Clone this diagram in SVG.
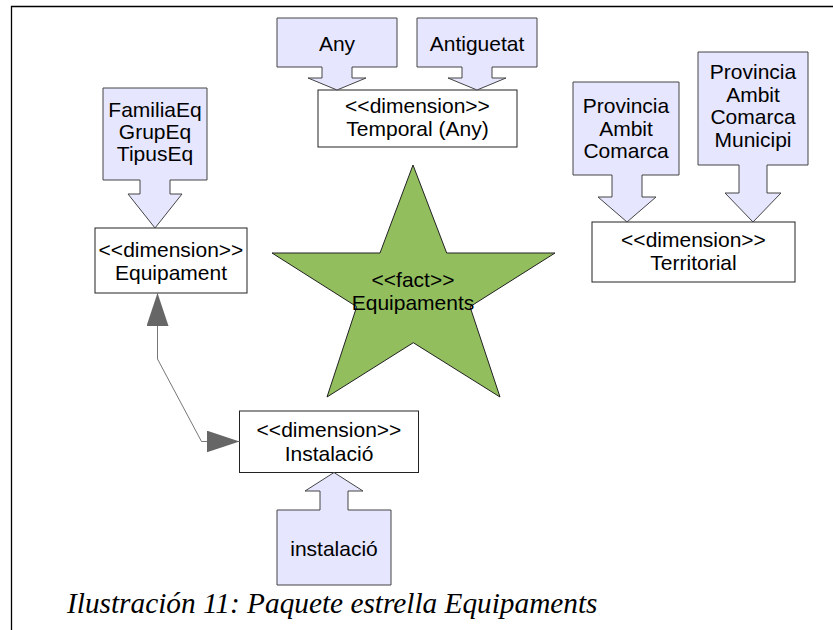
<svg xmlns="http://www.w3.org/2000/svg" width="833" height="630" viewBox="0 0 833 630">
  <style>
    .frame { fill: none; stroke: #000; stroke-width: 1.3; }
    .dim { fill: #fff; stroke: #222; stroke-width: 1; }
    .attr { fill: #e6e6ff; stroke: #444; stroke-width: 1; }
    .fact { fill: #92be5e; stroke: #222; stroke-width: 1; }
    .lbl { font-family: "Liberation Sans", Arial, sans-serif; font-size: 21px; fill: #000; text-anchor: middle; }
    .caption { font-family: "Liberation Serif", "Times New Roman", serif; font-style: italic; font-size: 29.3px; fill: #000; }
    .link { fill: none; stroke: #777; stroke-width: 1; }
  </style>
  <defs>
    <marker id="head" viewBox="0 0 33 22" refX="33" refY="11" markerWidth="33" markerHeight="22" markerUnits="userSpaceOnUse" orient="auto-start-reverse">
      <path d="M0,0 L33,11 L0,22 z" fill="#666"/>
    </marker>
  </defs>

  <rect width="833" height="630" fill="#fff"/>
  <path class="frame" d="M11.5,630 V6.5 H833"/>

  <!-- fact: star -->
  <g id="fact-equipaments">
    <polygon class="fact" points="413,165 446.7,253 555,253 470,306.7 500,397 413.3,342.7 327,397 356.7,306.7 272,253 380,253"/>
    <text class="lbl" x="413" y="287">&lt;&lt;fact&gt;&gt;</text>
    <text class="lbl" x="413" y="310">Equipaments</text>
  </g>

  <!-- dimension: Temporal -->
  <g id="dim-temporal">
    <rect class="dim" x="318" y="90" width="199" height="57"/>
    <text class="lbl" x="417.5" y="113">&lt;&lt;dimension&gt;&gt;</text>
    <text class="lbl" x="417.5" y="136">Temporal (Any)</text>
  </g>
  <g id="attr-any">
    <polygon class="attr" points="277,18 397,18 397,67 352,67 352,78 366,78 337,90 308,78 322,78 322,67 277,67"/>
    <text class="lbl" x="337" y="51">Any</text>
  </g>
  <g id="attr-antiguetat">
    <polygon class="attr" points="417,18 537,18 537,67 492,67 492,78 506,78 477,90 448,78 462,78 462,67 417,67"/>
    <text class="lbl" x="477" y="51">Antiguetat</text>
  </g>

  <!-- dimension: Equipament -->
  <g id="dim-equipament">
    <rect class="dim" x="95" y="228" width="152" height="65"/>
    <text class="lbl" x="171" y="257">&lt;&lt;dimension&gt;&gt;</text>
    <text class="lbl" x="171" y="280">Equipament</text>
  </g>
  <g id="attr-equipament">
    <polygon class="attr" points="103,88 207,88 207,180 170,180 170,194 182,194 155,228 128,194 140,194 140,180 103,180"/>
    <text class="lbl" x="155" y="117">FamiliaEq</text>
    <text class="lbl" x="155" y="139">GrupEq</text>
    <text class="lbl" x="155" y="161">TipusEq</text>
  </g>

  <!-- dimension: Territorial -->
  <g id="dim-territorial">
    <rect class="dim" x="592" y="222" width="203" height="60"/>
    <text class="lbl" x="693.5" y="247">&lt;&lt;dimension&gt;&gt;</text>
    <text class="lbl" x="693.5" y="270">Territorial</text>
  </g>
  <g id="attr-comarca">
    <polygon class="attr" points="573,82 679,82 679,175 642,175 642,197 656,197 627,222 598,197 612,197 612,175 573,175"/>
    <text class="lbl" x="626" y="113">Provincia</text>
    <text class="lbl" x="626" y="135.5">Ambit</text>
    <text class="lbl" x="626" y="158">Comarca</text>
  </g>
  <g id="attr-municipi">
    <polygon class="attr" points="698,52 808,52 808,165 767,165 767,193 781,193 753,222 725,193 739,193 739,165 698,165"/>
    <text class="lbl" x="753" y="79">Provincia</text>
    <text class="lbl" x="753" y="101.5">Ambit</text>
    <text class="lbl" x="753" y="124">Comarca</text>
    <text class="lbl" x="753" y="146.5">Municipi</text>
  </g>

  <!-- dimension: Instalació -->
  <g id="dim-instalacio">
    <rect class="dim" x="239.5" y="411" width="179" height="61.5"/>
    <text class="lbl" x="329" y="437">&lt;&lt;dimension&gt;&gt;</text>
    <text class="lbl" x="329" y="461">Instalació</text>
  </g>
  <g id="attr-instalacio">
    <polygon class="attr" points="277,585 391,585 391,510 348,510 348,491 363,491 334,472.5 305,491 320,491 320,510 277,510"/>
    <text class="lbl" x="334" y="556">instalació</text>
  </g>

  <!-- connectors -->
  <g id="connectors">
    <path class="link" d="M157.5,293 L157.5,359 L201.5,441.5 L239.5,441.5" marker-start="url(#head)" marker-end="url(#head)"/>
  </g>

  <text class="caption" x="67" y="613">Ilustración 11: Paquete estrella Equipaments</text>
</svg>
